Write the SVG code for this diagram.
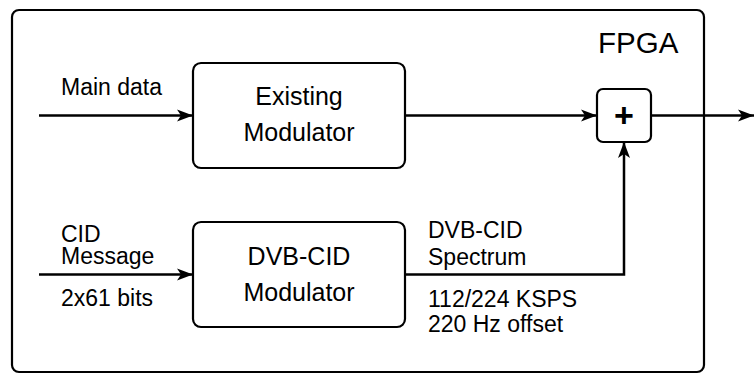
<svg xmlns="http://www.w3.org/2000/svg" width="754" height="379" viewBox="0 0 754 379">
<style>
.box{fill:#fff;stroke:#000;stroke-width:2.2}
.ln{fill:none;stroke:#000;stroke-width:2.5}
.t{font-family:"Liberation Sans",Arial,sans-serif;fill:#000}
.lbl{font-size:23px}
.bx{font-size:25px;text-anchor:middle}
</style>
<defs>
<marker id="arr" markerUnits="userSpaceOnUse" markerWidth="18" markerHeight="14" refX="16" refY="7" orient="auto">
<path d="M0,1 L16,7 L0,13 L4,7 Z" fill="#000"/>
</marker>
</defs>
<rect x="0" y="0" width="754" height="379" fill="#fff"/>
<g id="fpga">
<rect class="box" x="12" y="10" width="692" height="362" rx="7"/>
<text class="t" x="598" y="53" font-size="29.5">FPGA</text>
</g>
<g id="existing">
<rect class="box" x="193" y="63" width="212" height="105" rx="8"/>
<text class="t bx" x="299" y="105">Existing</text>
<text class="t bx" x="299" y="141">Modulator</text>
</g>
<g id="dvbcid">
<rect class="box" x="193" y="222" width="212" height="105" rx="8"/>
<text class="t bx" x="299" y="265">DVB-CID</text>
<text class="t bx" x="299" y="301">Modulator</text>
</g>
<g id="adder">
<rect class="box" x="597" y="89" width="54" height="53" rx="6"/>
<text class="t" x="624" y="127" font-size="34" font-weight="bold" text-anchor="middle">+</text>
</g>
<g id="connectors">
<line class="ln" x1="39" y1="115.5" x2="193" y2="115.5" marker-end="url(#arr)"/>
<line class="ln" x1="405" y1="115.5" x2="597" y2="115.5" marker-end="url(#arr)"/>
<line class="ln" x1="651" y1="115.5" x2="754" y2="115.5" marker-end="url(#arr)"/>
<line class="ln" x1="39" y1="274.5" x2="193" y2="274.5" marker-end="url(#arr)"/>
<polyline class="ln" points="405,274.5 624,274.5 624,142" marker-end="url(#arr)"/>
</g>
<g id="labels">
<text class="t lbl" x="61" y="95">Main data</text>
<text class="t lbl" x="61" y="242">CID</text>
<text class="t lbl" x="61" y="264">Message</text>
<text class="t lbl" x="61" y="306">2x61 bits</text>
<text class="t lbl" x="428" y="238">DVB-CID</text>
<text class="t lbl" x="428" y="265">Spectrum</text>
<text class="t lbl" x="428" y="307">112/224 KSPS</text>
<text class="t lbl" x="428" y="332">220 Hz offset</text>
</g>
</svg>
